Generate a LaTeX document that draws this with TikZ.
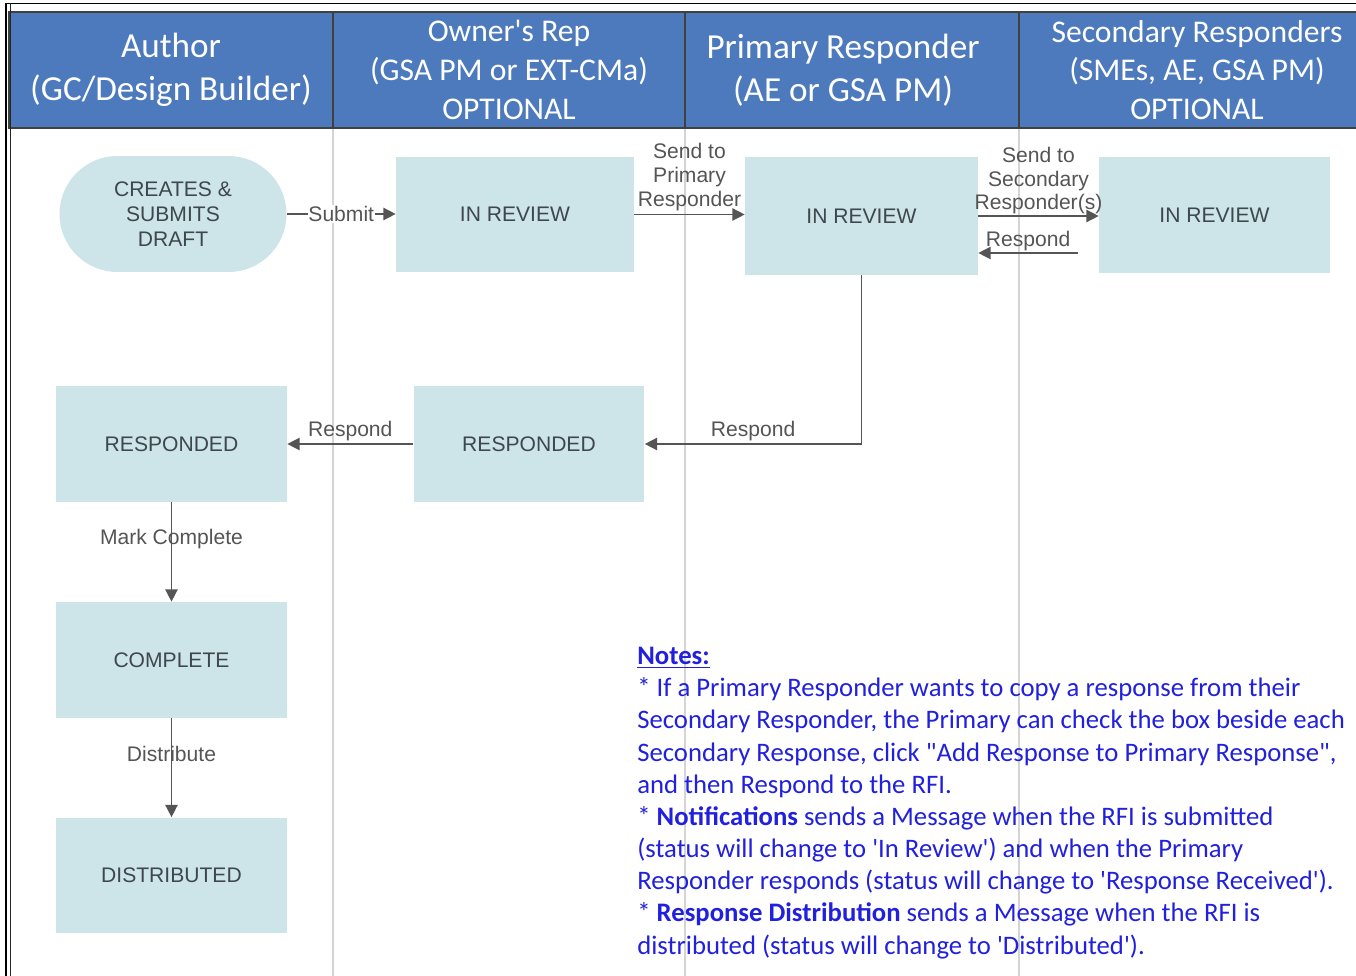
\documentclass[tikz,border=0pt]{standalone}
\usepackage{fontspec}
\setmainfont{Carlito}
\newfontfamily\arialfont{Liberation Sans}
\usepackage{tikz}
\usetikzlibrary{arrows.meta,positioning,calc}

\definecolor{hdrblue}{RGB}{77,122,189}
\definecolor{boxteal}{RGB}{205,229,232}
\definecolor{boxtext}{RGB}{62,72,76}
\definecolor{lanegray}{RGB}{212,212,212}
\definecolor{linkgray}{RGB}{85,85,85}
\definecolor{notesblue}{RGB}{32,32,222}

\begin{document}
\begin{tikzpicture}[x=0.02cm,y=-0.02cm,
    hdr/.style={rectangle,draw=black!75,line width=0.9pt,fill=hdrblue,text=white,
      align=center,inner sep=0pt,minimum height=2.32cm},
    hdrbig/.style={hdr,font=\fontsize{20}{24.4}\selectfont},
    hdrsmall/.style={hdr,font=\fontsize{18}{22.1}\selectfont},
    state/.style={rectangle,fill=boxteal,minimum width=4.62cm,minimum height=2.32cm,
      inner sep=0pt,align=center,text=boxtext,font=\arialfont\fontsize{12}{14.2}\selectfont},
    lbl/.style={text=linkgray,font=\arialfont\fontsize{12}{13.6}\selectfont,align=center,inner sep=1.5pt},
    flow/.style={draw=linkgray,line width=0.85pt,-{Triangle[length=7pt,width=7pt]}},
    lane/.style={draw=lanegray,line width=0.6pt}]
      \clip (0,0) rectangle (1356,976);
      \fill[white] (0,0) rectangle (1356,976);
      % lanes
      \draw[lane] (333,128) -- (333,976);
      \draw[lane] (685,128) -- (685,976);
      \draw[lane] (1019,128) -- (1019,976);
      % header
      \node[hdrbig,minimum width=6.48cm] (hauthor) at (171,70) {Author\\(GC/Design Builder)};
      \node[hdrsmall,minimum width=7.04cm] (howner) at (509,70)
        {Owner\textquotesingle s Rep\\(GSA PM or EXT-CMa)\\OPTIONAL};
      \node[hdrbig,minimum width=6.68cm] (hprimary) at (852,70) {};
      \node[text=white,align=center,font=\fontsize{20}{24.4}\selectfont] (hprimarytext) at (843,70)
        {Primary Responder\\(AE or GSA PM)};
      \node[hdrsmall,minimum width=7.12cm] (hsecondary) at (1197,70)
        {Secondary Responders\\(SMEs, AE, GSA PM)\\OPTIONAL};
      % frame
      \draw[black,line width=1.1pt] (1356,3.5) -- (6,3.5) -- (6,976);
      \draw[black!85,line width=1.1pt] (10.5,3.5) -- (10.5,976);
      % states
      \node[state,rounded corners=1.16cm,minimum width=4.54cm] (creates) at (173,214)
        {CREATES \&\\SUBMITS\\DRAFT};
      \node[state,minimum width=4.76cm,minimum height=2.3cm] (inrevown) at (515,214.5) {IN REVIEW};
      \node[state,minimum width=4.66cm,minimum height=2.36cm] (inrevpri) at (861.5,216) {IN REVIEW};
      \node[state] (inrevsec) at (1214.5,215) {IN REVIEW};
      \node[state] (respauth) at (171.5,444) {RESPONDED};
      \node[state] (respmid) at (529,444) {RESPONDED};
      \node[state] (complete) at (171.5,660) {COMPLETE};
      \node[state] (distributed) at (171.5,875.5) {DISTRIBUTED};
      % connectors
      \draw[flow] (creates.east) -- node[lbl,fill=white,inner sep=0.5pt] {Submit} (inrevown.west |- creates.east);
      \draw[flow] (inrevown.east) -- node[lbl,above] {Send to\\Primary\\Responder} (inrevown.east -| inrevpri.west);
      \draw[flow] (inrevpri.east) -- node[lbl,above,inner sep=0.5pt] {Send to\\Secondary\\Responder(s)}
        (inrevpri.east -| inrevsec.west);
      \coordinate (backsec) at (1078,253);
      \draw[flow] (backsec) -- node[lbl,above,inner sep=0.5pt] {Respond} (backsec -| inrevpri.east);
      \draw[flow] (inrevpri.south) |- node[lbl,pos=0.75,above] {Respond} (respmid.east);
      \draw[flow] (respmid.west) -- node[lbl,above] {Respond} (respauth.east);
      \draw[flow] (respauth.south) -- node[lbl,pos=0.37] {Mark Complete} (complete.north);
      \draw[flow] (complete.south) -- node[lbl,pos=0.36] {Distribute} (distributed.north);
      % notes
      \node[anchor=north west,align=left,inner sep=0pt,text=notesblue,
        font=\fontsize{15.2}{18.3}\selectfont] (notes) at (637,647)
        {\underline{\textbf{Notes:}}\\
        * If a Primary Responder wants to copy a response from their\\
        Secondary Responder, the Primary can check the box beside each\\
        Secondary Response, click \textquotedbl Add Response to Primary Response\textquotedbl,\\
        and then Respond to the RFI.\\
        * \textbf{Notifications} sends a Message when the RFI is submitted\\
        (status will change to \textquotesingle In Review\textquotesingle) and when the Primary\\
        Responder responds (status will change to \textquotesingle Response Received\textquotesingle).\\
        * \textbf{Response Distribution} sends a Message when the RFI is\\
        distributed (status will change to \textquotesingle Distributed\textquotesingle).};
\end{tikzpicture}
\end{document}
